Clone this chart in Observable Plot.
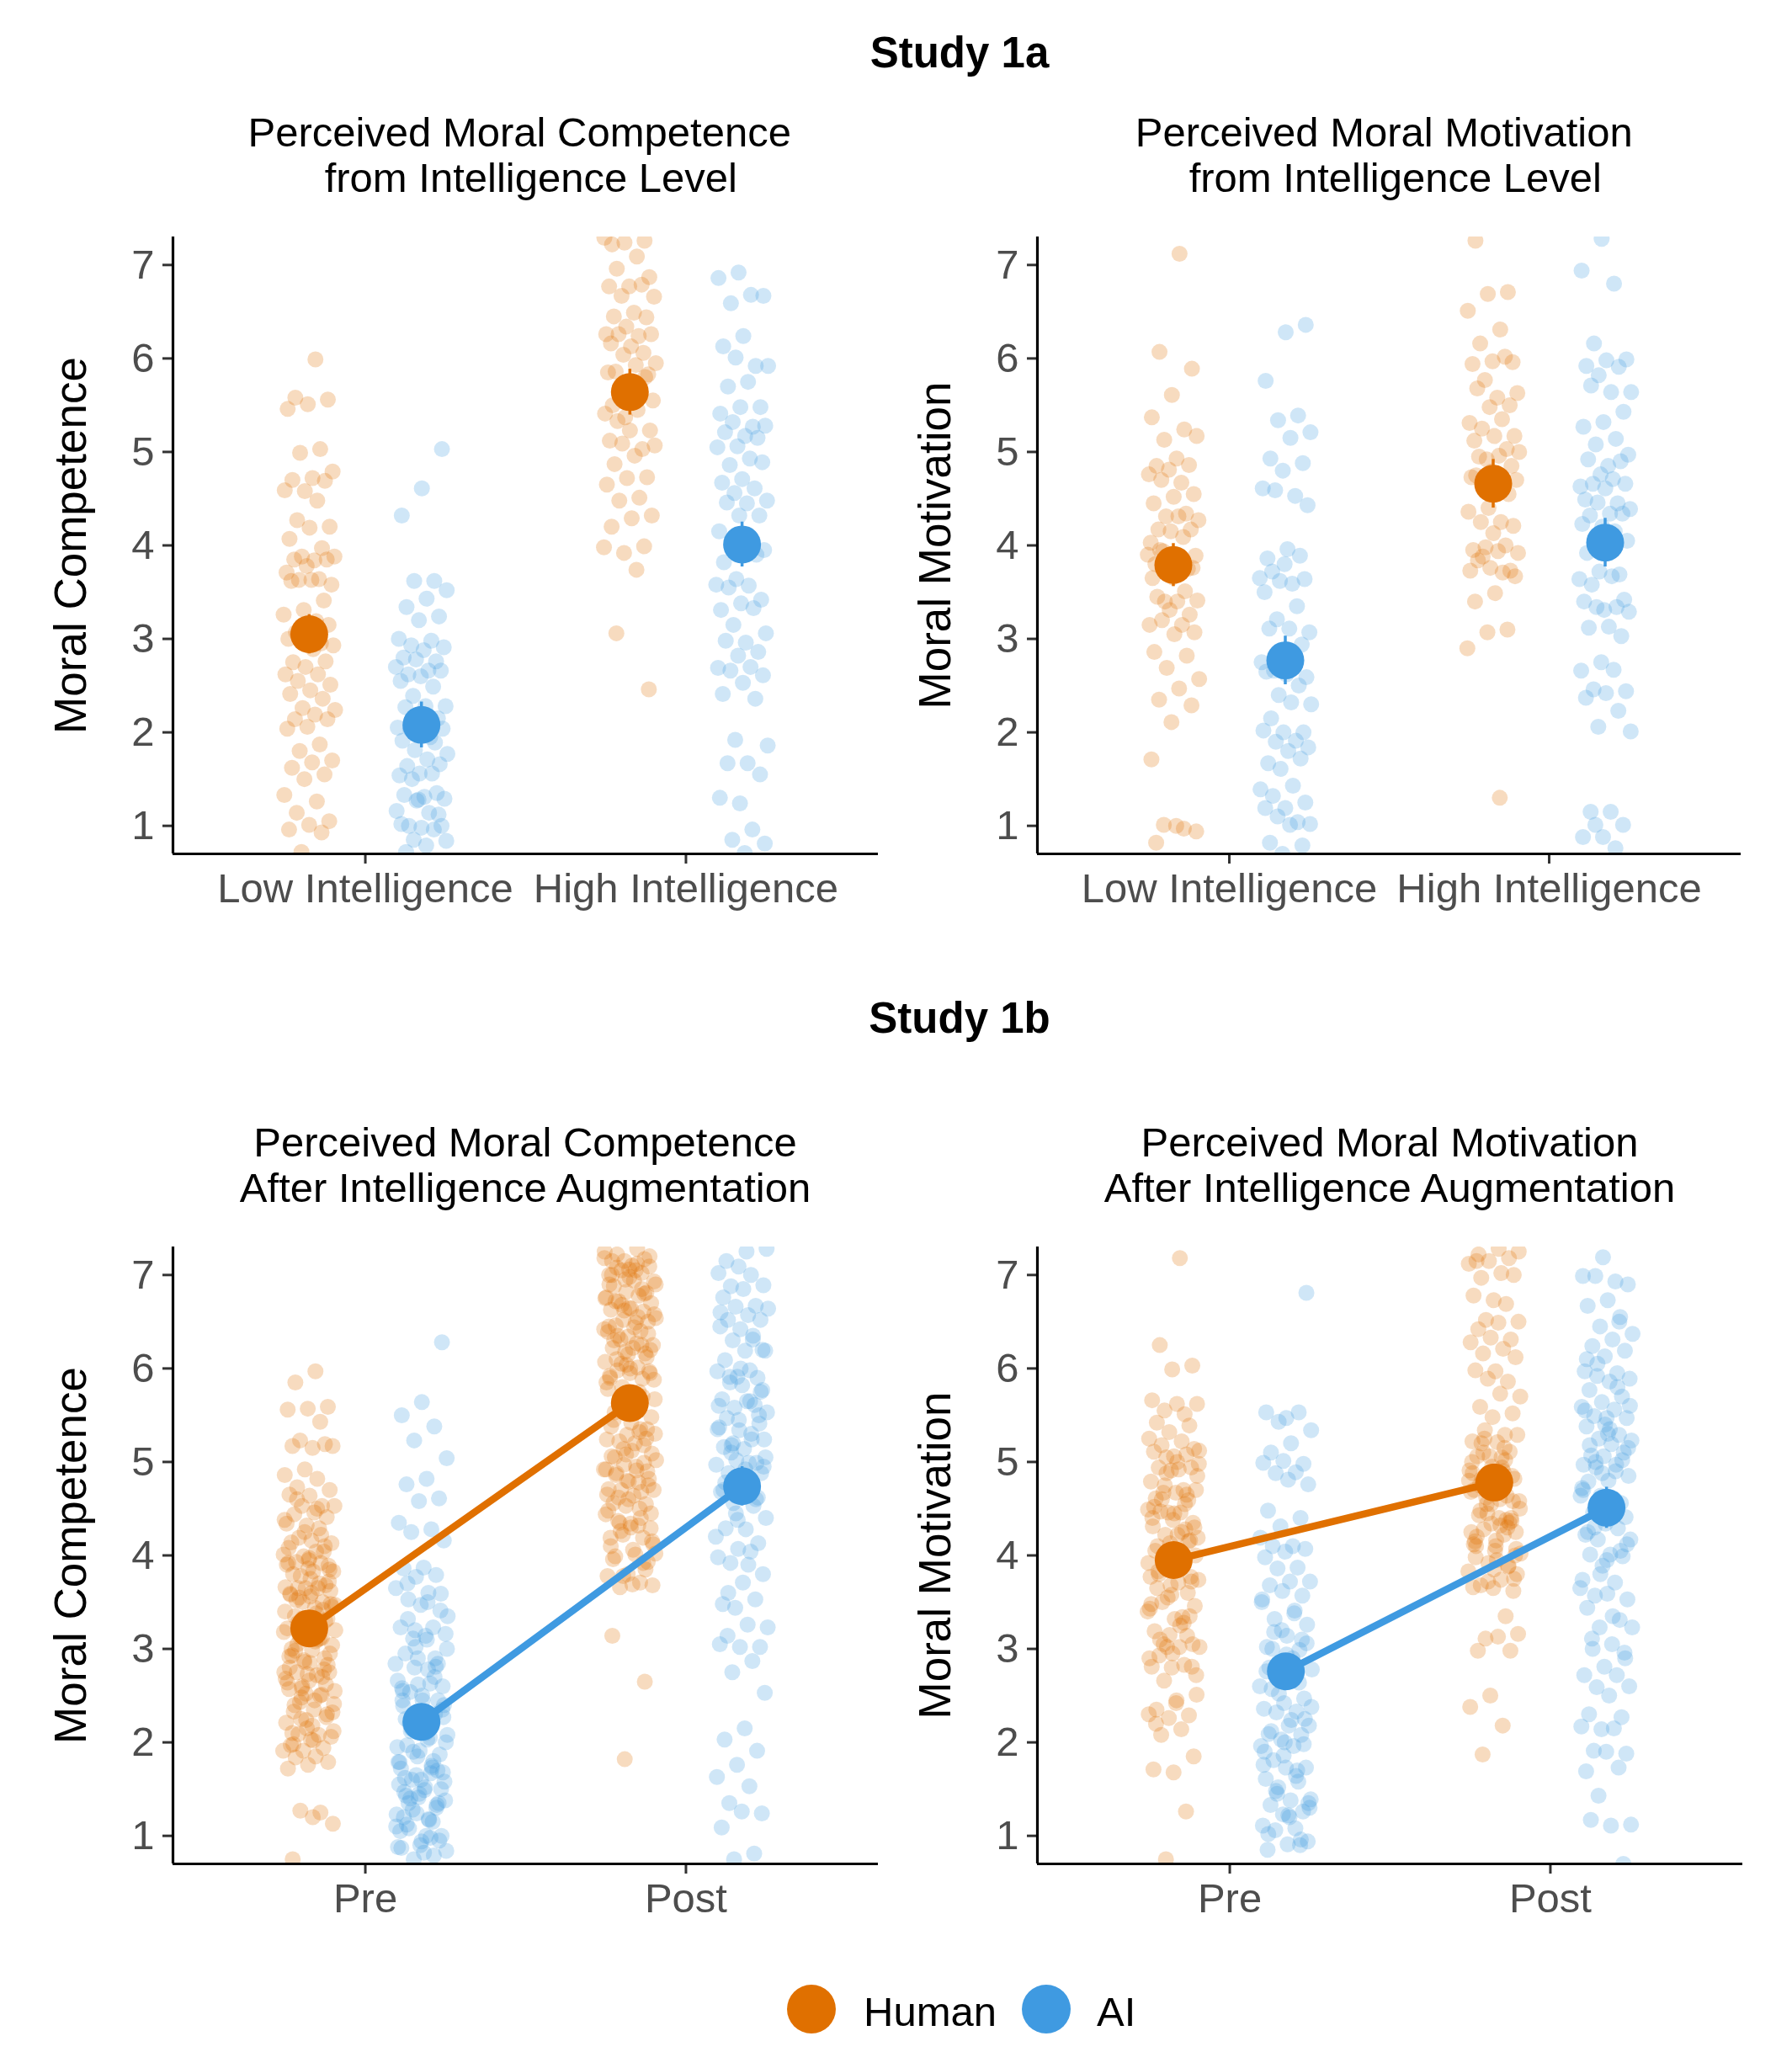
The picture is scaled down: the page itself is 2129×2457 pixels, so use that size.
<!DOCTYPE html>
<html><head><meta charset="utf-8">
<script src="https://cdn.jsdelivr.net/npm/d3@7"></script>
<script src="https://cdn.jsdelivr.net/npm/@observablehq/plot@0.6"></script>
<style>
body{margin:0;background:#fff;}
#page{position:relative;width:2129px;height:2457px;background:#fff;font-family:"Liberation Sans",Arial,Helvetica,sans-serif;color:#000;overflow:hidden;}
.t{position:absolute;white-space:pre;text-align:center;transform:translateX(-50%);}
.panel{position:absolute;}
.sw{position:absolute;border-radius:50%;}
.lg{position:absolute;white-space:pre;font-size:49px;line-height:54px;}
</style></head><body><div id="page"></div>
<script>
const groups = ["Human", "AI"];
const groupColors = ["#E07000", "#3F9AE1"];
const cats1a = ["Low Intelligence", "High Intelligence"];
const cats1b = ["Pre", "Post"];
const yTicks = [1, 2, 3, 4, 5, 6, 7];

// Study 1a – Moral Competence
const compHumanLow1a = [5.99,5.58,5.56,5.51,5.46,5.03,4.99,4.79,4.72,4.70,4.69,4.58,4.59,4.48,4.27,4.20,4.19,4.07,3.97,3.88,3.88,3.84,3.85,3.85,3.78,3.71,3.64,3.63,3.58,3.63,3.62,3.41,3.31,3.26,3.19,3.07,3.15,3.10,3.00,2.95,3.05,2.93,2.89,2.75,2.76,2.70,2.62,2.62,2.55,2.51,2.45,2.41,2.36,2.26,2.24,2.19,2.14,2.14,2.06,2.04,1.87,1.80,1.70,1.68,1.62,1.55,1.50,1.33,1.26,1.14,1.05,1.01,0.96,0.93,0.72];
const compAILow1a = [5.03,4.61,4.32,3.62,3.62,3.52,3.43,3.34,3.24,3.20,3.00,2.98,2.93,2.91,2.88,2.80,2.76,2.78,2.70,2.66,2.62,2.66,2.60,2.55,2.49,2.39,2.28,2.28,2.27,2.15,2.10,2.05,1.95,2.04,2.04,2.00,1.91,1.89,1.81,1.77,1.71,1.64,1.66,1.56,1.54,1.56,1.50,1.29,1.31,1.33,1.35,1.27,1.16,1.14,1.00,1.00,0.98,1.02,0.96,0.85,0.84,0.79,0.72,1.12,1.28];
const compHumanHigh1a = [7.22,7.26,7.24,7.29,7.09,6.96,6.87,6.77,6.77,6.79,6.67,6.66,6.49,6.45,6.44,6.34,6.26,6.24,6.26,6.26,6.13,6.16,6.06,6.04,5.95,5.93,5.86,5.83,5.73,5.85,5.60,5.70,5.55,5.65,5.50,5.80,5.37,5.41,5.45,5.33,5.23,5.23,5.12,5.03,5.09,5.07,4.96,4.87,4.73,4.72,4.65,4.51,4.48,4.32,4.29,4.20,3.99,3.92,3.98,3.74,3.06,2.46];
const compAIHigh1a = [6.92,6.86,6.68,6.59,6.67,6.24,6.13,5.92,6.01,5.92,5.75,5.70,5.48,5.48,5.41,5.27,5.32,5.28,5.17,5.21,5.15,5.06,5.05,4.93,4.86,4.89,4.71,4.67,4.61,4.56,4.48,4.45,4.46,4.32,4.32,4.15,4.00,4.05,3.95,4.10,3.82,3.90,3.64,3.58,3.57,3.55,3.42,3.38,3.31,3.33,3.15,3.06,2.96,2.98,2.86,2.82,2.69,2.70,2.66,2.61,2.53,2.41,2.36,1.92,1.86,1.67,1.67,1.55,1.24,1.30,0.96,0.85,0.81,0.71];
const meanCompHuman1a = [3.05, 5.64];
const meanCompAI1a = [2.08, 4.01];
const ciCompHuman1a = [0.21, 0.245];
const ciCompAI1a = [0.245, 0.24];

// Study 1a – Moral Motivation
const motHumanLow1a = [7.12,6.07,5.89,5.61,5.37,5.24,5.13,5.17,4.93,4.85,4.86,4.81,4.76,4.67,4.70,4.55,4.52,4.45,4.34,4.31,4.27,4.31,4.17,4.17,4.15,4.03,4.09,3.94,3.89,3.87,3.80,3.75,3.85,3.90,3.70,3.95,3.76,3.66,3.65,3.51,3.40,3.41,3.40,3.45,3.26,3.31,3.15,3.15,3.20,3.07,3.05,2.86,2.82,2.69,2.57,2.47,2.35,2.29,2.11,1.71,0.97,1.01,0.94,1.00,0.82];
const motAILow1a = [6.36,6.28,5.76,5.39,5.34,5.21,5.15,4.93,4.88,4.80,4.61,4.53,4.59,4.43,3.96,3.86,3.89,3.62,3.65,3.59,3.72,3.64,3.80,3.50,3.35,3.21,3.07,3.11,3.11,2.94,2.80,2.75,2.70,2.66,2.59,2.62,2.65,2.50,2.40,2.30,2.32,2.15,2.00,2.00,2.02,1.91,1.90,1.84,1.80,1.67,1.72,1.61,1.39,1.43,1.32,1.25,1.19,1.19,1.04,1.10,1.02,1.01,0.82,0.79,0.70];
const motHumanHigh1a = [7.26,6.71,6.69,6.51,6.31,6.16,5.96,5.97,5.94,6.02,5.77,5.63,5.58,5.68,5.50,5.48,5.31,5.35,5.25,5.17,5.17,5.12,5.03,4.92,5.00,4.96,4.95,4.85,4.79,4.73,4.64,4.61,4.70,4.60,4.75,4.55,4.40,4.36,4.25,4.25,4.21,4.13,3.95,4.00,3.98,3.92,3.94,3.84,3.73,3.76,3.73,3.71,3.88,3.67,3.49,3.40,3.10,3.07,2.90,1.30];
const motAIHigh1a = [7.28,6.94,6.80,6.16,5.99,5.98,5.92,5.91,5.82,5.64,5.64,5.71,5.43,5.32,5.27,5.14,5.08,4.97,4.85,4.92,4.90,4.76,4.63,4.71,4.66,4.66,4.61,4.49,4.45,4.46,4.39,4.34,4.32,4.34,4.20,4.23,4.15,4.00,4.05,4.10,3.92,3.69,3.72,3.64,3.67,3.58,3.42,3.31,3.40,3.34,3.34,3.29,3.13,3.12,3.03,2.75,2.66,2.67,2.46,2.44,2.42,2.37,2.23,2.06,2.01,1.15,1.15,1.01,0.88,0.88,0.76,1.01];
const meanMotHuman1a = [3.79, 4.66];
const meanMotAI1a = [2.77, 4.03];
const ciMotHuman1a = [0.23, 0.26];
const ciMotAI1a = [0.26, 0.26];

// Study 1b – Moral Competence
const compHumanPre1b = [5.97,5.85,5.59,5.57,5.56,5.43,5.23,5.17,5.15,5.17,5.19,4.92,4.86,4.82,4.73,4.70,4.64,4.65,4.53,4.53,4.53,4.46,4.44,4.41,4.32,4.34,4.29,4.19,4.13,4.16,4.14,4.04,3.99,4.01,4.04,3.93,3.89,3.86,3.92,3.92,3.78,3.83,3.83,3.80,3.68,3.65,3.66,3.65,3.65,3.62,3.56,3.59,3.50,3.50,3.47,3.44,3.35,3.32,3.22,3.22,3.11,3.13,3.04,2.99,2.93,2.90,2.86,2.75,2.72,2.75,2.75,2.66,2.57,2.51,2.48,2.41,2.35,2.33,2.27,2.24,2.21,2.08,2.09,2.06,2.03,1.97,1.94,1.91,1.91,1.85,1.84,1.79,1.76,1.72,1.25,1.27,1.13,1.20,0.75,3.30,3.25,3.40,3.10,3.05,2.95,2.85,2.80,2.70,2.60,2.55,2.45,2.40,2.30,2.15,3.90,3.70,3.55,3.45,3.60,3.00,2.78,2.88,3.18,3.38,3.52,3.72,3.95,4.08,4.22,2.25,2.12,2.02,1.98,2.62,2.52,2.68,3.15,3.28,3.48,3.75,3.58,3.42,3.33,3.20,3.08,2.98,2.83,2.73,2.64,2.50,2.43,2.32,2.18,2.10,4.10,4.25,4.38,4.50,4.60,3.85,3.97,2.92,3.12,2.58];
const compAIPre1b = [6.28,5.64,5.50,5.38,5.23,5.04,4.82,4.76,4.61,4.58,4.35,4.28,4.25,4.16,3.87,3.86,3.79,3.77,3.65,3.60,3.53,3.59,3.47,3.23,3.23,3.11,3.16,3.14,2.95,2.84,2.90,2.66,2.63,2.54,2.60,2.45,2.45,2.30,2.17,2.08,2.03,1.97,1.87,1.91,1.79,1.73,1.60,1.58,1.49,1.47,1.33,1.24,1.23,1.17,1.08,1.00,0.94,0.87,0.79,0.75,0.84,1.00,1.43,1.35,1.41,1.79,1.67,2.12,2.27,2.33,2.39,2.81,3.02,2.84,2.78,3.32,3.41,0.90,1.05,1.15,1.28,1.38,1.52,1.62,1.70,1.85,1.95,2.05,2.20,2.35,2.50,2.58,2.70,2.80,3.00,3.10,1.12,0.95,1.45,1.55,1.75,2.15,2.40,0.82,1.20,1.30,1.65,1.10,1.18,1.35,1.50,1.60,1.72,1.80,1.90,2.00,2.10,2.25,2.45,2.62,0.88,0.98,1.40,1.68,2.32,2.55,2.90,3.20,3.35,3.50,3.70];
const compHumanPost1b = [7.15,7.17,7.15,7.18,7.12,7.08,7.09,7.06,7.00,7.02,7.05,6.93,6.94,6.88,6.81,6.82,6.76,6.78,6.72,6.70,6.64,6.63,6.61,6.52,6.54,6.49,6.46,6.37,6.34,6.39,6.40,6.31,6.25,6.22,6.22,6.16,6.18,6.07,6.01,5.98,5.95,5.95,5.92,5.89,5.80,5.67,5.59,5.53,5.35,5.29,5.24,5.32,5.22,5.09,5.12,5.06,4.99,4.97,4.92,4.91,4.88,4.82,4.79,4.71,4.68,4.70,4.70,4.64,4.56,4.55,4.53,4.44,4.32,4.37,4.29,4.34,4.19,4.19,4.22,4.02,4.01,3.99,3.93,3.80,3.78,3.71,3.66,3.68,3.69,3.14,2.65,1.82,7.25,7.28,7.22,7.20,6.98,6.90,6.85,6.68,6.58,6.44,6.30,6.12,6.04,5.85,5.75,5.62,5.48,5.42,5.38,5.18,5.14,5.02,4.95,4.86,4.75,4.60,4.48,4.40,4.26,4.12,4.06,3.96,3.85,6.95,6.75,6.55,6.35,6.20,6.00,5.90,5.70,5.55,5.30,5.20,5.05,4.90,4.80,4.65,4.50,4.35,4.15,7.10,7.00,6.80,6.62,6.42,6.27,6.10,5.97,6.65,6.45,6.25,6.05,5.88,5.65,5.45,5.25,5.08,4.92,4.78,4.62,4.45,4.30,4.10,3.92,3.78,6.90,7.05,6.72,6.50,6.15,5.78,5.35];
const compAIPost1b = [7.09,7.02,7.00,6.88,6.89,6.85,6.76,6.67,6.66,6.64,6.57,6.52,6.52,6.42,6.45,6.31,6.30,6.19,6.19,6.09,5.90,5.91,5.97,5.98,5.91,5.77,5.82,5.67,5.61,5.58,5.53,5.65,5.47,5.41,5.34,5.37,5.24,5.18,5.24,5.14,5.16,4.99,5.02,4.97,4.99,4.88,4.88,4.79,4.68,4.53,4.56,4.40,4.28,4.29,4.13,4.07,3.98,4.04,3.92,3.80,3.71,3.48,3.53,3.44,3.23,3.26,3.14,3.02,3.02,3.05,2.87,2.75,2.53,2.15,2.03,1.91,1.76,1.63,1.53,1.35,1.24,1.26,1.09,0.81,0.75,7.28,7.25,7.15,5.50,5.45,5.60,5.30,5.10,4.95,4.85,4.70,4.60,4.45,4.20,3.90,3.60,5.75,6.00,6.60,6.35,5.20,5.05,4.92,4.78,4.62,4.38,5.35,5.65,5.85,6.20];
const meanCompHuman1b = [3.22, 5.63];
const meanCompAI1b = [2.22, 4.74];
const ciCompHuman1b = [0.17, 0.17];
const ciCompAI1b = [0.17, 0.21];

// Study 1b – Moral Motivation
const motHumanPre1b = [7.18,6.25,6.03,5.99,5.66,5.51,5.55,5.62,5.62,5.42,5.39,5.32,5.25,5.22,5.18,5.14,5.06,5.11,5.08,5.05,4.98,4.92,4.94,4.94,4.91,4.79,4.70,4.67,4.70,4.67,4.61,4.59,4.46,4.49,4.46,4.47,4.35,4.38,4.31,4.28,4.22,4.19,4.22,4.10,4.16,4.13,3.43,3.34,3.50,3.46,3.32,3.19,3.14,3.02,3.02,3.02,2.93,2.81,2.80,2.81,2.83,2.66,2.51,2.45,2.35,2.29,2.26,2.30,2.14,2.08,1.85,1.68,1.71,1.26,0.75,3.74,3.71,3.83,3.77,3.68,3.77,3.90,3.95,4.00,3.85,4.05,3.60,3.55,3.40,3.25,3.10,3.05,2.95,4.40,4.55,4.75,4.85,5.00,3.65,3.35,3.15,2.90,4.25,4.60,4.30,4.45,4.52,4.65,4.88,5.12,3.88,3.80,3.72,3.58,3.48,3.28,3.05,2.72,2.42,2.20,4.15,4.02,3.92];
const motAIPre1b = [6.81,5.47,5.53,5.53,5.43,5.34,5.20,5.10,4.98,5.01,4.99,4.89,4.88,4.76,4.81,4.48,4.40,4.31,4.19,4.10,4.10,4.07,4.04,3.98,3.87,3.86,3.72,3.72,3.68,3.57,3.62,3.53,3.41,3.32,3.26,3.14,3.02,2.99,2.81,2.78,2.66,2.57,2.47,2.42,2.36,2.33,2.32,2.18,2.18,2.09,2.08,2.03,1.96,1.96,1.81,1.73,1.73,1.61,1.58,1.52,1.39,1.38,1.33,1.26,1.23,1.11,1.08,1.06,0.94,0.91,0.85,0.90,2.70,2.60,2.90,3.00,2.25,2.00,1.90,1.70,1.45,1.30,1.20,2.80,3.10,3.20,3.50,3.38,3.18,3.06,2.94,2.76,2.64,2.52,2.38,2.24,2.12,1.98,1.86,1.76,1.64,1.48,1.35,1.22,1.02,0.96];
const motHumanPost1b = [7.15,7.18,7.15,7.12,7.02,6.97,7.00,6.73,6.78,6.69,6.52,6.50,6.49,6.42,6.31,6.33,6.28,6.21,6.16,6.12,5.97,5.98,5.86,5.89,5.70,5.73,5.59,5.52,5.48,5.22,5.29,5.34,5.29,5.21,5.06,5.11,5.06,4.91,4.94,4.82,4.82,4.67,4.70,4.64,4.55,4.58,4.40,4.43,4.37,4.34,4.25,4.22,4.28,4.07,4.16,4.10,3.89,3.92,3.83,3.74,3.68,3.62,3.65,3.66,3.35,3.11,3.16,3.13,2.98,2.98,2.50,2.38,2.18,1.87,4.00,4.05,4.15,4.30,4.45,4.50,4.60,4.75,4.85,4.95,5.00,5.15,5.25,3.80,3.95,4.20,4.35,4.70,4.80,5.05,5.20,3.75,3.85,4.12,4.38,4.62,7.25,7.28,7.22,4.40,4.55,4.68,4.90,5.10,4.25,4.10,3.98,3.88,3.72,4.02,4.32,4.48,4.58,4.72,4.88,5.02];
const motAIPost1b = [7.19,6.99,6.93,6.99,6.90,6.73,6.67,6.55,6.45,6.37,6.31,6.24,6.19,6.13,5.97,5.95,5.92,5.89,5.86,5.77,5.70,5.64,5.59,5.56,5.49,5.47,5.47,5.38,5.29,5.25,5.23,5.19,5.07,5.10,5.06,4.97,4.97,4.94,4.85,4.80,4.79,4.56,4.64,4.64,4.50,4.46,4.41,4.34,4.22,4.29,4.17,4.17,4.01,4.01,3.99,3.89,3.74,3.71,3.57,3.53,3.59,3.44,3.31,3.23,3.23,3.05,3.11,2.96,2.81,2.72,2.72,2.59,2.60,2.50,2.30,2.27,2.14,2.17,2.15,1.91,1.88,1.90,1.69,1.73,1.43,1.12,1.11,1.17,0.70,4.50,4.70,4.90,5.00,5.15,5.30,4.25,4.05,3.80,3.65,3.35,3.00,2.90,5.40,5.55,5.80,6.05,5.60,5.35,5.18,5.02,4.88,4.72,4.60,4.30,4.12,3.95,6.10,6.50];
const meanMotHuman1b = [3.95, 4.78];
const meanMotAI1b = [2.76, 4.51];
const ciMotHuman1b = [0.17, 0.18];
const ciMotAI1b = [0.17, 0.22];

const FONT = '"Liberation Sans", Arial, Helvetica, sans-serif';
const page = document.getElementById("page");

function addText(txt, cx, top, size, weight, lh) {
  const d = document.createElement("div");
  d.className = "t";
  d.textContent = txt;
  d.style.left = cx + "px";
  d.style.top = top + "px";
  d.style.fontSize = size + "px";
  d.style.lineHeight = lh + "px";
  d.style.fontWeight = weight;
  page.appendChild(d);
}

const DODGE = 0.175, JIT = 0.082;
function buildPoints(sets) {
  const out = [];
  sets.forEach((s, k) => {
    s.values.forEach((v, i) => {
      const u = ((i + 1) * 0.6180339887 + k * 0.2718) % 1;
      out.push({x: s.cat + 1 + (s.group === "Human" ? -DODGE : DODGE) + (u - 0.5) * 2 * JIT, y: v, group: s.group});
    });
  });
  return out;
}
function buildMeans(mh, ma, ch, ca) {
  const out = [];
  [0, 1].forEach(c => {
    out.push({x: c + 1 - DODGE, y: mh[c], lo: mh[c] - ch[c], hi: mh[c] + ch[c], group: "Human"});
    out.push({x: c + 1 + DODGE, y: ma[c], lo: ma[c] - ca[c], hi: ma[c] + ca[c], group: "AI"});
  });
  return out;
}

function panel(o) {
  const pts = buildPoints([
    {values: o.h0, cat: 0, group: "Human"},
    {values: o.a0, cat: 0, group: "AI"},
    {values: o.h1, cat: 1, group: "Human"},
    {values: o.a1, cat: 1, group: "AI"}
  ]);
  const means = buildMeans(o.mh, o.ma, o.ch, o.ca);
  const svg = Plot.plot({
    width: o.width, height: 854,
    marginLeft: o.ml, marginRight: o.mr, marginTop: 21, marginBottom: 100,
    x: {domain: [0.4, 2.6], label: null},
    y: {domain: [0.7, 7.3], label: null},
    color: {domain: groups, range: groupColors},
    style: {fontFamily: FONT, background: "transparent", overflow: "visible"},
    marks: [
      Plot.dot(pts, {x: "x", y: "y", r: 9.5, fill: "group", fillOpacity: 0.25, stroke: null, clip: true}),
      o.connect ? Plot.line(means, {x: "x", y: "y", z: "group", stroke: "group", strokeWidth: 8.5}) : null,
      Plot.ruleX(means, {x: "x", y1: "lo", y2: "hi", stroke: "group", strokeWidth: 3.5}),
      Plot.dot(means, {x: "x", y: "y", r: 22.5, fill: "group", stroke: null}),
      Plot.axisY({ticks: yTicks, tickFormat: d => String(d), tickSize: 12, tickPadding: 10, fontSize: 49, stroke: "#333333", fill: "#4D4D4D", strokeWidth: 3, label: null}),
      Plot.axisX({ticks: [1, 2], tickFormat: d => o.cats[d - 1], tickSize: 12, tickPadding: 11, fontSize: 49, stroke: "#333333", fill: "#4D4D4D", strokeWidth: 3, label: null}),
      Plot.ruleX([0.4], {stroke: "#000", strokeWidth: 3.2}),
      Plot.ruleY([0.7], {stroke: "#000", strokeWidth: 3.2}),
      Plot.text([o.ylabel], {text: d => d, frameAnchor: "left", textAnchor: "middle", lineAnchor: "middle", dx: -120, rotate: -90, fontSize: 53, fill: "#000"})
    ]
  });
  const wrap = document.createElement("div");
  wrap.className = "panel";
  wrap.style.left = o.left + "px";
  wrap.style.top = o.top + "px";
  wrap.appendChild(svg);
  page.appendChild(wrap);
}

// Titles
addText("Study 1a", 1140, 33, 51, "bold", 60);
addText("Study 1b", 1140, 1180, 51, "bold", 60);
addText("Perceived Moral Competence \n from Intelligence Level", 624, 130, 49, "normal", 54);
addText("Perceived Moral Motivation \n from Intelligence Level", 1651, 130, 49, "normal", 54);
addText("Perceived Moral Competence\nAfter Intelligence Augmentation", 624, 1330, 49, "normal", 54);
addText("Perceived Moral Motivation\nAfter Intelligence Augmentation", 1651, 1330, 49, "normal", 54);

panel({left: 0, top: 260, width: 1064, ml: 205, mr: 21, cats: cats1a, ylabel: "Moral Competence",
  h0: compHumanLow1a, a0: compAILow1a, h1: compHumanHigh1a, a1: compAIHigh1a,
  mh: meanCompHuman1a, ma: meanCompAI1a, ch: ciCompHuman1a, ca: ciCompAI1a, connect: false});
panel({left: 1064, top: 260, width: 1065, ml: 168, mr: 61, cats: cats1a, ylabel: "Moral Motivation",
  h0: motHumanLow1a, a0: motAILow1a, h1: motHumanHigh1a, a1: motAIHigh1a,
  mh: meanMotHuman1a, ma: meanMotAI1a, ch: ciMotHuman1a, ca: ciMotAI1a, connect: false});
panel({left: 0, top: 1460, width: 1064, ml: 205, mr: 21, cats: cats1b, ylabel: "Moral Competence",
  h0: compHumanPre1b, a0: compAIPre1b, h1: compHumanPost1b, a1: compAIPost1b,
  mh: meanCompHuman1b, ma: meanCompAI1b, ch: ciCompHuman1b, ca: ciCompAI1b, connect: true});
panel({left: 1064, top: 1460, width: 1065, ml: 168, mr: 59, cats: cats1b, ylabel: "Moral Motivation",
  h0: motHumanPre1b, a0: motAIPre1b, h1: motHumanPost1b, a1: motAIPost1b,
  mh: meanMotHuman1b, ma: meanMotAI1b, ch: ciMotHuman1b, ca: ciMotAI1b, connect: true});

// Legend
const legendX = [964, 1243];
const legendTextX = [1026, 1303];
groups.forEach((g, i) => {
  const c = document.createElement("div");
  c.className = "sw";
  c.style.left = (legendX[i] - 29) + "px";
  c.style.top = (2387 - 29) + "px";
  c.style.width = "58px";
  c.style.height = "58px";
  c.style.background = groupColors[i];
  page.appendChild(c);
  const t = document.createElement("div");
  t.className = "lg";
  t.textContent = g;
  t.style.left = legendTextX[i] + "px";
  t.style.top = "2363px";
  page.appendChild(t);
});
</script></body></html>
